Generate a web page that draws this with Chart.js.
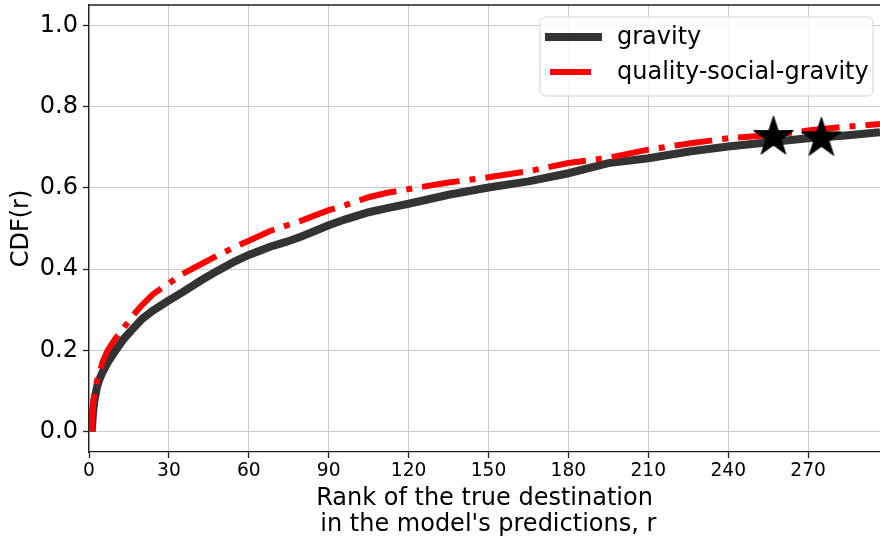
<!DOCTYPE html>
<html>
<head>
<meta charset="utf-8">
<script src="https://cdn.jsdelivr.net/npm/chart.js@4.4.1/dist/chart.umd.min.js"></script>
<style>
  html, body { margin: 0; padding: 0; background: #fff; }
  #wrap { width: 880px; height: 538px; position: relative; }
</style>
</head>
<body>
<div id="wrap"><canvas id="cdf_chart"></canvas></div>
<script>
// rank r of the true destination and the CDF of each model at that rank
const ranks = [1, 1.5, 2, 3, 4, 5, 7, 10, 13, 16, 20, 24, 30, 35, 42, 48, 55, 60, 68, 74,
    80, 90, 96, 105, 112, 120, 135, 150, 165, 180, 195, 210, 226, 240, 258, 270, 283, 297];
const gravityCdf = [0, 0.045, 0.075, 0.11, 0.13, 0.145, 0.17, 0.2, 0.228, 0.25, 0.278, 0.298,
    0.323, 0.343, 0.372, 0.395, 0.42, 0.435, 0.455, 0.467, 0.481, 0.508, 0.522, 0.54, 0.55,
    0.561, 0.583, 0.601, 0.616, 0.636, 0.661, 0.673, 0.69, 0.702, 0.714, 0.722, 0.728, 0.737];
const qsgCdf = [0, 0.06, 0.1, 0.125, 0.145, 0.17, 0.2, 0.23, 0.255, 0.282, 0.312, 0.338,
    0.365, 0.388, 0.412, 0.433, 0.455, 0.47, 0.494, 0.507, 0.52, 0.545, 0.557, 0.577, 0.588,
    0.597, 0.613, 0.626, 0.641, 0.661, 0.674, 0.694, 0.71, 0.722, 0.731, 0.741, 0.75, 0.757];

// highlighted ranks
const starRanks = [257, 275];
const starCdf = [0.73, 0.727];

const xTicks = [0, 30, 60, 90, 120, 150, 180, 210, 240, 270];
const yTicks = [0, 0.2, 0.4, 0.6, 0.8, 1.0];

const seriesNames = ['gravity', 'quality-social-gravity'];
const seriesColors = ['#333333', '#ff0000'];

function toPoints(xs, ys) {
    return xs.map((x, i) => ({x: x, y: ys[i]}));
}

// filled five-point star used as the marker image
function makeStar(outer) {
    const inner = outer * 0.382;
    const size = Math.ceil(outer * 2 + 4);
    const c = document.createElement('canvas');
    c.width = size;
    c.height = size;
    const g = c.getContext('2d');
    const cx = size / 2, cy = size / 2 + outer * 0.1;
    g.beginPath();
    for (let i = 0; i < 10; i++) {
        const r = i % 2 === 0 ? outer : inner;
        const a = -Math.PI / 2 + i * Math.PI / 5;
        const px = cx + r * Math.cos(a), py = cy + r * Math.sin(a);
        if (i === 0) g.moveTo(px, py); else g.lineTo(px, py);
    }
    g.closePath();
    g.fillStyle = '#000';
    g.fill();
    g.lineWidth = 1;
    g.strokeStyle = '#000';
    g.stroke();
    return c;
}

// top spine and the boxed legend in the upper right
const framePlugin = {
    id: 'frameAndLegend',
    afterDraw(chart) {
        const ctx = chart.ctx;
        const area = chart.chartArea;
        ctx.save();
        ctx.strokeStyle = '#222';
        ctx.lineWidth = 1.3;
        ctx.beginPath();
        ctx.moveTo(area.left, area.top);
        ctx.lineTo(area.right, area.top);
        ctx.stroke();

        const bx = 540, by = 17, bw = 333, bh = 79, r = 6;
        ctx.beginPath();
        ctx.roundRect(bx, by, bw, bh, r);
        ctx.fillStyle = 'rgba(255,255,255,0.8)';
        ctx.fill();
        ctx.strokeStyle = '#d4d4d4';
        ctx.lineWidth = 1;
        ctx.stroke();

        ctx.lineCap = 'butt';
        ctx.strokeStyle = seriesColors[0];
        ctx.lineWidth = 8;
        ctx.beginPath();
        ctx.moveTo(545, 37);
        ctx.lineTo(602, 37);
        ctx.stroke();

        ctx.strokeStyle = seriesColors[1];
        ctx.lineWidth = 6;
        ctx.beginPath();
        ctx.moveTo(550, 72);
        ctx.lineTo(591, 72);
        ctx.stroke();

        ctx.fillStyle = '#000';
        ctx.font = '24px "DejaVu Sans"';
        ctx.textBaseline = 'middle';
        ctx.textAlign = 'left';
        ctx.fillText(seriesNames[0], 617, 38);
        ctx.fillText(seriesNames[1], 617, 73);
        ctx.restore();
    }
};

Chart.defaults.font.family = '"DejaVu Sans", sans-serif';
Chart.defaults.color = '#000';

const ctx = document.getElementById('cdf_chart').getContext('2d');
const chart = new Chart(ctx, {
    type: 'line',
    data: {
        datasets: [
            {
                label: seriesNames[0],
                data: toPoints(ranks, gravityCdf),
                borderColor: seriesColors[0],
                borderWidth: 8,
                pointRadius: 0,
                tension: 0,
                order: 2
            },
            {
                label: seriesNames[1],
                data: toPoints(ranks, qsgCdf),
                borderColor: seriesColors[1],
                borderWidth: 6,
                borderDash: [38, 10, 6, 10],
                pointRadius: 0,
                tension: 0,
                order: 1
            },
            {
                label: 'stars',
                data: toPoints(starRanks, starCdf),
                showLine: false,
                pointStyle: makeStar(21),
                pointRadius: 10,
                order: 0
            }
        ]
    },
    options: {
        responsive: true,
        maintainAspectRatio: false,
        animation: false,
        events: [],
        layout: {
            autoPadding: false,
            padding: {top: 5, right: 0, bottom: 0, left: 0}
        },
        scales: {
            x: {
                type: 'linear',
                min: 0,
                max: 297,
                afterBuildTicks: (s) => { s.ticks = xTicks.map(v => ({value: v})); },
                afterFit: (s) => {
                    s.height = 86;
                    s.paddingLeft = 0;
                    s.paddingRight = 0;
                },
                grid: {
                    color: '#cccccc',
                    lineWidth: 1,
                    tickColor: '#222',
                    tickLength: 6,
                    tickWidth: 1.3
                },
                border: {color: '#222', width: 1.3},
                ticks: {
                    font: {size: 18.67},
                    padding: 2,
                    maxRotation: 0
                },
                title: {
                    display: true,
                    text: ['Rank of the true destination', " in the model's predictions, r"],
                    font: {size: 24, lineHeight: 1.09},
                    padding: {top: 0, bottom: 0}
                }
            },
            y: {
                type: 'linear',
                min: -0.05,
                max: 1.05,
                afterBuildTicks: (s) => { s.ticks = yTicks.map(v => ({value: v})); },
                afterFit: (s) => {
                    s.width = 89;
                    s.paddingTop = 0;
                    s.paddingBottom = 0;
                },
                grid: {
                    color: '#cccccc',
                    lineWidth: 1,
                    tickColor: '#222',
                    tickLength: 6,
                    tickWidth: 1.3
                },
                border: {color: '#222', width: 1.3},
                ticks: {
                    font: {size: 24},
                    padding: 5,
                    callback: (v) => v.toFixed(1)
                },
                title: {
                    display: true,
                    text: 'CDF(r)',
                    font: {size: 24, lineHeight: 1.2},
                    padding: {top: 7, bottom: 0}
                }
            }
        },
        plugins: {
            legend: {display: false},
            tooltip: {enabled: false}
        }
    },
    plugins: [framePlugin]
});
</script>
</body>
</html>
